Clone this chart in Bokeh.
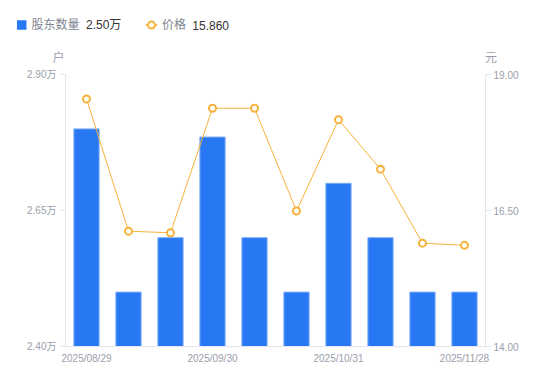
from bokeh.plotting import figure
from bokeh.models import (Range1d, LinearAxis, FixedTicker, PrintfTickFormatter,
                          ColumnDataSource)
from bokeh.core.properties import value
from bokeh.embed import file_html
from bokeh.resources import INLINE

# ---- data ----
dates = ["2025/08/29", "2025/09/10", "2025/09/19", "2025/09/30", "2025/10/10",
         "2025/10/20", "2025/10/31", "2025/11/10", "2025/11/20", "2025/11/28"]
holders = [2.80, 2.50, 2.60, 2.785, 2.60, 2.50, 2.70, 2.60, 2.50, 2.50]   # 万户
price = [18.55, 16.12, 16.09, 18.38, 18.38, 16.49, 18.17, 17.26, 15.90, 15.86]  # 元
shown_ticks = [0, 3, 6, 9]
left_ticks = [2.40, 2.65, 2.90]
right_ticks = [14.0, 16.5, 19.0]
series_names = ["股东数量", "价格"]
series_latest = ["2.50万", "15.860"]
units = ["户", "元"]

FONT = "Liberation Sans, Noto Sans CJK SC"
GRAY = "#9a9eab"
LEGEND_GRAY = "#80858f"
AXIS = "#e3e5ea"
BLUE = "#2878f4"
ORANGE = "#f7b23b"
TICK_FS = "10px"

# ---- layout (pixels) ----
W, H = 550, 381
FL, FR, FT, FB = 65, 485, 74, 346          # plot area edges on the page
n = len(dates)
x_lo, x_hi = -0.5, n - 0.5
y_lo, y_hi = left_ticks[0], left_ticks[-1]
r_lo, r_hi = right_ticks[0], right_ticks[-1]

def span(lo, hi, a, b, total):
    k = (hi - lo) / (b - a)
    return lo - a * k, hi + (total - b) * k

xr0, xr1 = span(x_lo, x_hi, FL, FR, W)
yr0, yr1 = span(y_lo, y_hi, H - FB, H - FT, H)
rr0, rr1 = span(r_lo, r_hi, H - FB, H - FT, H)

idx = list(range(n))
src = ColumnDataSource(dict(x=idx, holders=holders, price=price))

p = figure(width=W, height=H, output_backend="svg", toolbar_location=None,
           x_range=Range1d(xr0, xr1), y_range=Range1d(yr0, yr1),
           min_border=0, min_border_left=0, min_border_right=0,
           min_border_top=0, min_border_bottom=0)
p.extra_y_ranges = {"price": Range1d(rr0, rr1), "px": Range1d(H, 0)}
p.extra_x_ranges = {"px": Range1d(0, W)}
p.outline_line_color = None
p.xgrid.visible = False
p.ygrid.visible = False
p.background_fill_color = "white"
p.border_fill_color = "white"

p.vbar(x="x", top="holders", bottom=y_lo, width=0.6, source=src,
       fill_color=BLUE, line_color="#7aaaf6", line_width=1)
p.line(x="x", y="price", source=src, y_range_name="price",
       line_color=ORANGE, line_width=1)
p.scatter(x="x", y="price", source=src, y_range_name="price", size=7,
          fill_color="white", line_color=ORANGE, line_width=2)

# x axis
xa = p.xaxis[0]
xa.fixed_location = y_lo
xa.bounds = (x_lo, x_hi)
xa.ticker = FixedTicker(ticks=shown_ticks)
xa.major_label_overrides = {i: dates[i] for i in shown_ticks}
xa.axis_line_color = AXIS
xa.major_tick_line_color = None
xa.major_tick_out = 0
xa.major_tick_in = 0
xa.minor_tick_line_color = None
xa.major_label_text_color = GRAY
xa.major_label_text_font = FONT
xa.major_label_text_font_size = TICK_FS
xa.major_label_standoff = 6

# left axis
ya = p.yaxis[0]
ya.fixed_location = x_lo
ya.bounds = (y_lo, y_hi)
ya.ticker = FixedTicker(ticks=left_ticks)
ya.formatter = PrintfTickFormatter(format="%.2f万")
ya.axis_line_color = AXIS
ya.major_tick_line_color = AXIS
ya.major_tick_out = 5
ya.major_tick_in = 0
ya.minor_tick_line_color = None
ya.major_label_text_color = GRAY
ya.major_label_text_font = FONT
ya.major_label_text_font_size = TICK_FS
ya.major_label_standoff = 4

# right axis
ra = LinearAxis(y_range_name="price", ticker=FixedTicker(ticks=right_ticks),
                formatter=PrintfTickFormatter(format="%.2f"))
ra.fixed_location = x_hi
ra.bounds = (r_lo, r_hi)
ra.axis_line_color = AXIS
ra.major_tick_line_color = AXIS
ra.major_tick_out = 5
ra.major_tick_in = 0
ra.minor_tick_line_color = None
ra.major_label_text_color = GRAY
ra.major_label_text_font = FONT
ra.major_label_text_font_size = TICK_FS
ra.major_label_standoff = 3
p.add_layout(ra, "right")

# ---- header: legend + unit labels (pixel ranges) ----
kw = dict(x_range_name="px", y_range_name="px")
p.rect(x=[21.2], y=[24.6], width=9.5, height=9.5, fill_color=BLUE, line_color=None, **kw)
p.line(x=[145, 157], y=[24.6, 24.6], line_color=ORANGE, line_width=1.5, **kw)
p.scatter(x=[151], y=[24.6], size=7, fill_color="white", line_color=ORANGE,
          line_width=2, **kw)
p.text(x=[31, 161.5], y=[24.8, 24.8], text=series_names, text_align="left",
       text_baseline="middle", text_color=LEGEND_GRAY, text_font=value(FONT),
       text_font_size="12px", **kw)
p.text(x=[85.5, 191.8], y=[24.8, 24.8], text=series_latest, text_align="left",
       text_baseline="middle", text_color="#333333", text_font=value(FONT),
       text_font_size="12px", **kw)
p.text(x=[58, 490.5], y=[57, 57], text=units, text_align="center",
       text_baseline="middle", text_color=GRAY, text_font=value(FONT),
       text_font_size="12px", **kw)

open("out.html", "w").write(file_html(p, INLINE))
